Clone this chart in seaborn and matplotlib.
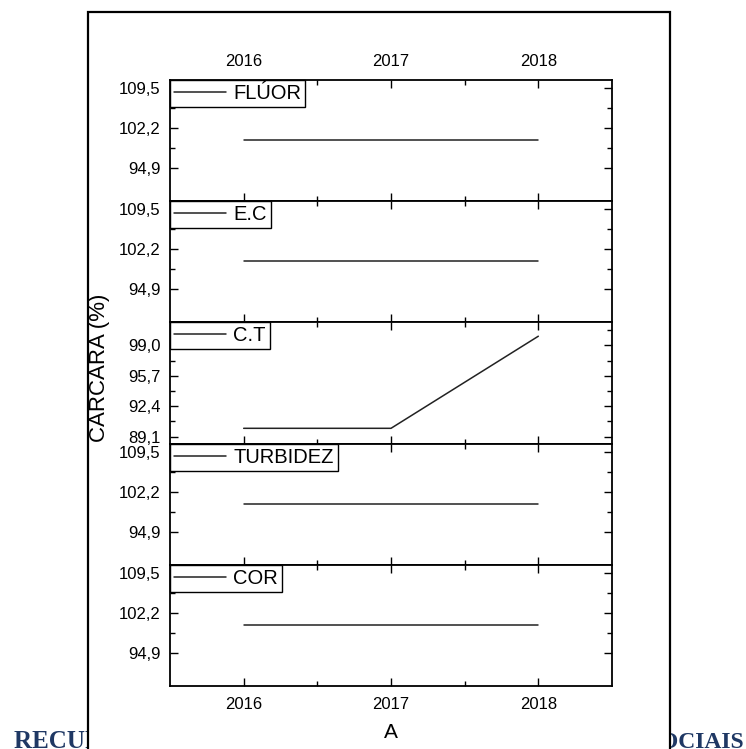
import numpy as np
import pandas as pd
import matplotlib
matplotlib.use("Agg")
import matplotlib.pyplot as plt
import seaborn as sns
from matplotlib.ticker import FixedLocator, FuncFormatter
from matplotlib.patches import Rectangle

# ---------------------------------------------------------------------
# dados
# ---------------------------------------------------------------------
anos = [2016, 2017, 2018]
paineis = ["FLÚOR", "E.C", "C.T", "TURBIDEZ", "COR"]
fluor = [100, 100, 100]
ec = [100, 100, 100]
ct = [90, 90, 100]
turbidez = [100, 100, 100]
cor = [100, 100, 100]
valores = [fluor, ec, ct, turbidez, cor]

ticks_padrao = [94.9, 102.2, 109.5]
ticks_ct = [89.1, 92.4, 95.7, 99.0]

sns.set_style("ticks")
plt.rcParams['font.family'] = ['Liberation Sans', 'DejaVu Sans']

fig = plt.figure(figsize=(7.46, 7.49), dpi=100)

# moldura da página + texto de rodapé escondido atrás dela
fig.text(14 / 746, 0.0015, "RECURSOS HÍDRICOS", family='Liberation Serif',
         fontweight='bold', fontsize=18, color='#1f3864', ha='left',
         va='baseline', zorder=-3)
fig.text(744 / 746, 0.0015, "IMPACTOS SOCIAIS", family='Liberation Serif',
         fontweight='bold', fontsize=17, color='#1f3864', ha='right',
         va='baseline', zorder=-3)
fig.patches.append(Rectangle((88 / 746, -0.05), 582 / 746, 1.034,
                             transform=fig.transFigure, facecolor='white',
                             edgecolor='black', linewidth=1.6, zorder=-2))

left, right = 170 / 746, 612 / 746
top, bottom = 1 - 80 / 749, 1 - 686 / 749
h = (top - bottom) / 5

virgula = FuncFormatter(lambda v, p: f"{v:.1f}".replace(".", ","))

for i, (nome, vals) in enumerate(zip(paineis, valores)):
    ax = fig.add_axes([left, top - (i + 1) * h, right - left, h])
    df = pd.DataFrame({"ano": anos, "valor": vals})
    sns.lineplot(data=df, x="ano", y="valor", ax=ax, color='#222222',
                 linewidth=1.1, label=nome)

    ax.set_xlim(2015.5, 2018.5)
    ax.xaxis.set_major_locator(FixedLocator(anos))
    ax.xaxis.set_minor_locator(FixedLocator([2016.5, 2017.5]))
    ax.xaxis.set_major_formatter(FuncFormatter(lambda v, p: f"{v:.0f}"))

    if nome == "C.T":
        yt = ticks_ct
        ax.set_ylim(88.34, 101.5)
    else:
        yt = ticks_padrao
        ax.set_ylim(88.85, 110.96)
    ax.yaxis.set_major_locator(FixedLocator(yt))
    ax.yaxis.set_minor_locator(FixedLocator(
        [(a + b) / 2 for a, b in zip(yt[:-1], yt[1:])] + [yt[-1] + (yt[1] - yt[0]) / 2]))
    ax.yaxis.set_major_formatter(virgula)

    ax.tick_params(which='both', direction='in', top=True, right=True,
                   labeltop=(i == 0), labelbottom=(i == 4), labelsize=12,
                   colors='black', width=1.0)
    ax.tick_params(which='major', length=6)
    ax.tick_params(which='minor', length=3.5)
    ax.tick_params(axis='y', pad=7)
    ax.tick_params(axis='x', pad=8)
    for s in ax.spines.values():
        s.set_linewidth(1.3)
        s.set_color('black')
    ax.set_xlabel("")
    ax.set_ylabel("")

    leg = ax.legend(loc='upper left', borderaxespad=0, fontsize=14.5,
                    handlelength=2.6, handletextpad=0.35, borderpad=0.2,
                    fancybox=False, frameon=True, labelcolor='black')
    leg.get_frame().set_edgecolor('black')
    leg.get_frame().set_linewidth(1.0)
    leg.get_frame().set_alpha(1)

fig.text(100 / 746, 1 - 368 / 749, "CARCARA (%)", rotation=90, fontsize=16,
         ha='center', va='center', color='black')
fig.text(391 / 746, 1 - 733 / 749, "A", fontsize=15, ha='center', va='center',
         color='black')

fig.savefig("out.png", dpi=100)
